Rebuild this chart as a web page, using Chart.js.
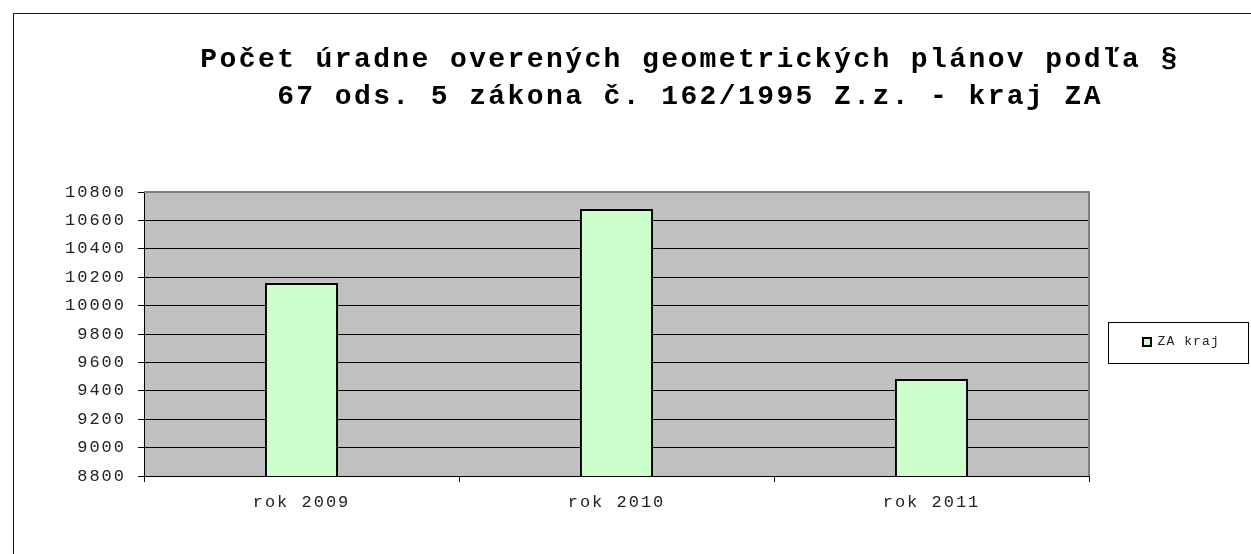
<!DOCTYPE html>
<html>
<head>
<meta charset="utf-8">
<script src="https://cdn.jsdelivr.net/npm/chart.js@4.4.1/dist/chart.umd.min.js"></script>
<style>
  html, body { margin: 0; padding: 0; background: #ffffff; }
  #wrap { width: 1251px; height: 554px; }
</style>
</head>
<body>
<div id="wrap"><canvas id="c" width="1251" height="554"></canvas></div>
<script>
// ---- data ----
const categories = ['rok 2009', 'rok 2010', 'rok 2011'];
const seriesName = 'ZA kraj';
const seriesValues = [10159, 10680, 9483];
const titleLines = ['Počet úradne overených geometrických plánov podľa §', '67 ods. 5 zákona č. 162/1995 Z.z. - kraj ZA'];
const yMin = 8800;
const yMax = 10800;
const yStep = 200;

const FONT = "'Liberation Mono', 'DejaVu Sans Mono', monospace";
const LEGEND_W = 161;
const LEGEND_DX = 44;
const LEGEND_DY = 58;
const TITLE_DX = 65;

function wrapDraw(chart, obj, spacing, dx, dy, extra) {
  if (!obj || obj._lsWrapped) return;
  const orig = obj.draw;
  obj.draw = function (...args) {
    const c = chart.ctx;
    c.save();
    try { c.letterSpacing = spacing; } catch (e) {}
    c.translate(dx || 0, dy || 0);
    orig.apply(this, args);
    if (extra) extra.call(this, c);
    c.restore();
  };
  obj._lsWrapped = true;
}

const decor = {
  id: 'decor',
  beforeLayout(chart) {
    wrapDraw(chart, chart.titleBlock, '2.4px', TITLE_DX, 0);
    wrapDraw(chart, chart.scales.y, '2px');
    wrapDraw(chart, chart.scales.x, '2px');
    const lg = chart.legend;
    if (lg && !lg._fitWrapped) {
      const origFit = lg.fit;
      lg.fit = function () { origFit.call(this); this.width = LEGEND_W; };
      lg._fitWrapped = true;
    }
    wrapDraw(chart, lg, '1.1px', LEGEND_DX, LEGEND_DY, function (c) {
      const hb = this.legendHitBoxes && this.legendHitBoxes[0];
      if (!hb) return;
      const cy = hb.top + hb.height / 2;
      c.save();
      c.letterSpacing = '0px';
      c.strokeStyle = '#000000';
      c.lineWidth = 1;
      c.strokeRect(Math.round(hb.left - 35) + 0.5, Math.round(cy - 20.5) + 0.5, 140, 41);
      c.restore();
    });
  },
  beforeDraw(chart) {
    const c = chart.ctx;
    const a = chart.chartArea;
    c.save();
    c.fillStyle = '#ffffff';
    c.fillRect(0, 0, chart.width, chart.height);
    c.fillStyle = '#1a1a1a';
    c.fillRect(13, 13, chart.width - 13, 1);
    c.fillRect(13, 13, 1, chart.height - 13);
    c.fillStyle = '#c0c0c0';
    c.fillRect(a.left, a.top, a.right - a.left, a.bottom - a.top);
    c.restore();
  },
  afterDraw(chart) {
    const c = chart.ctx;
    const a = chart.chartArea;
    c.save();
    c.strokeStyle = '#808080';
    c.lineWidth = 2;
    c.beginPath();
    c.moveTo(a.left, a.top);
    c.lineTo(a.right, a.top);
    c.lineTo(a.right, a.bottom);
    c.stroke();
    c.restore();
  }
};

new Chart(document.getElementById('c'), {
  type: 'bar',
  data: {
    labels: categories,
    datasets: [{
      label: seriesName,
      data: seriesValues,
      backgroundColor: '#ccffcc',
      borderColor: '#000000',
      borderWidth: 2,
      categoryPercentage: 1.0,
      barPercentage: 0.232
    }]
  },
  options: {
    responsive: false,
    animation: false,
    devicePixelRatio: 1,
    layout: { padding: { left: 0, right: 1, top: 14, bottom: 0 } },
    plugins: {
      tooltip: { enabled: false },
      title: {
        display: true,
        text: titleLines,
        color: '#000000',
        font: { family: FONT, size: 28, weight: 'bold', lineHeight: '37px' },
        padding: { top: 27.5, bottom: 76.5 }
      },
      legend: {
        display: true,
        position: 'right',
        align: 'center',
        labels: {
          boxWidth: 8,
          boxHeight: 8,
          padding: 10,
          color: '#222222',
          font: { family: FONT, size: 13 }
        }
      }
    },
    scales: {
      x: {
        offset: true,
        afterFit(scale) { scale.height = 78; },
        grid: {
          offset: true,
          drawOnChartArea: false,
          drawTicks: true,
          tickLength: 6,
          color: '#000000',
          lineWidth: 1
        },
        border: { display: true, color: '#000000', width: 1 },
        ticks: {
          color: '#222222',
          padding: 10,
          maxRotation: 0,
          font: { family: FONT, size: 17 }
        }
      },
      y: {
        min: yMin,
        max: yMax,
        afterFit(scale) { scale.width = 144; },
        grid: {
          color: '#000000',
          lineWidth: 1,
          drawTicks: true,
          tickLength: 6,
          tickColor: '#000000'
        },
        border: { display: true, color: '#000000', width: 1 },
        ticks: {
          stepSize: yStep,
          color: '#222222',
          padding: 12,
          font: { family: FONT, size: 17 },
          callback: (v) => String(v)
        }
      }
    }
  },
  plugins: [decor]
});
</script>
</body>
</html>
